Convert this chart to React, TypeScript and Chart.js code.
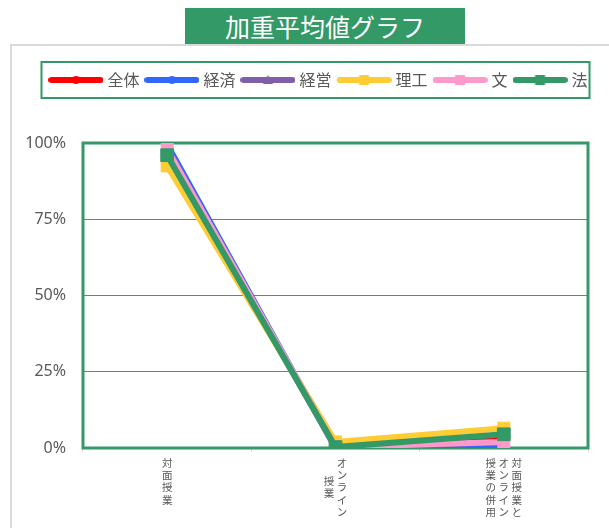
import React, { useEffect, useRef } from "react";
import { Chart, registerables } from "chart.js";

Chart.register(...registerables);

const categories = ["対面授業", "オンライン授業", "対面授業とオンライン授業の併用"];
const tickLines = [["対面授業"], ["オンライン", "授業"], ["対面授業と", "オンライン", "授業の併用"]];
const seriesNames = ["全体", "経済", "経営", "理工", "文", "法"];
const zentai = [96.5, 0.5, 3.0];
const keizai = [99.5, 0.0, 0.5];
const keiei = [98.0, 0.0, 2.0];
const riko = [92.5, 2.0, 6.5];
const bun = [98.0, 0.3, 2.0];
const hou = [96.0, 0.3, 4.5];
const yTicks = [0, 25, 50, 75, 100];

const GREEN = "#339966";
const GRID_GREEN = "#2fa463";
const colors = ["#FF0000", "#3366FF", "#7F5FA8", "#FFCC33", "#FF99CC", GREEN];
const styles: any[] = ["circle", "circle", "triangle", "rect", "rect", "rect"];
const radii = [4, 4, 5, 8.5, 8.5, 9];
const legendMarker = [4, 4, 5, 5, 5, 5];

function makeLegendImage(i: number) {
  const c = document.createElement("canvas");
  c.width = 55;
  c.height = 14;
  const g = c.getContext("2d")!;
  g.strokeStyle = colors[i];
  g.fillStyle = colors[i];
  g.lineWidth = 6;
  g.lineCap = "round";
  g.beginPath();
  g.moveTo(3, 7);
  g.lineTo(52, 7);
  g.stroke();
  const cx = 27.5, cy = 7, s = legendMarker[i];
  g.beginPath();
  if (styles[i] === "circle") g.arc(cx, cy, s, 0, Math.PI * 2);
  else if (styles[i] === "triangle") {
    g.moveTo(cx, cy - s);
    g.lineTo(cx + s, cy + s * 0.8);
    g.lineTo(cx - s, cy + s * 0.8);
    g.closePath();
  } else g.rect(cx - s, cy - s, 2 * s, 2 * s);
  g.fill();
  return c;
}

const CANVAS_LEFT = 11;
const CANVAS_TOP = 46;
const CANVAS_W = 618;
const CANVAS_H = 482;
const PAD_TOP = 17;
const LEGEND_H = 34;

export default function App() {
  const ref = useRef<HTMLCanvasElement>(null);
  useEffect(() => {
    const imgs = seriesNames.map((_, i) => makeLegendImage(i));
    const values = [zentai, keizai, keiei, riko, bun, hou];
    const plotBorder = {
      id: "plotBorder",
      beforeDatasetsDraw(chart: any) {
        const { ctx, chartArea: a } = chart;
        ctx.save();
        ctx.strokeStyle = GREEN;
        ctx.lineWidth = 3;
        ctx.strokeRect(a.left, a.top, a.right - a.left, a.bottom - a.top);
        ctx.restore();
      },
    };
    const legendBox = {
      id: "legendBox",
      afterDraw(chart: any) {
        const hb = chart.legend.legendHitBoxes;
        if (!hb || !hb.length) return;
        const ctx = chart.ctx;
        const last = hb[hb.length - 1];
        const cy = chart.legend.top + 9 + 8;
        const x0 = hb[0].left - 11;
        ctx.save();
        ctx.strokeStyle = GREEN;
        ctx.lineWidth = 2;
        ctx.strokeRect(x0, cy - 18, last.left + last.width + 2 - x0, 36);
        ctx.restore();
      },
    };
    const xLabels = {
      id: "xLabels",
      afterDraw(chart: any) {
        const xs = chart.scales.x;
        const ctx = chart.ctx;
        ctx.save();
        ctx.font = '10.5px "Noto Sans CJK JP"';
        ctx.fillStyle = "#595959";
        ctx.textAlign = "center";
        ctx.textBaseline = "middle";
        tickLines.forEach((lines, i) => {
          const cx = xs.getPixelForValue(i);
          const n = lines.length;
          const maxLen = Math.max(...lines.map((l) => [...l].length));
          lines.forEach((line, j) => {
            const colX = cx + ((n - 1) / 2 - j) * 13;
            const chars = [...line];
            const off = ((maxLen - chars.length) / 2) * 12.2;
            chars.forEach((ch, k) => {
              ctx.fillText(ch, colX, chart.chartArea.bottom + 15 + off + k * 12.2);
            });
          });
        });
        ctx.restore();
      },
    };
    const chart = new Chart(ref.current!, {
      type: "line",
      data: {
        labels: categories,
        datasets: seriesNames.map((name, i) => ({
          label: name,
          data: values[i],
          borderColor: colors[i],
          backgroundColor: colors[i],
          borderWidth: 6,
          borderJoinStyle: "round" as const,
          borderCapStyle: "round" as const,
          pointStyle: styles[i],
          pointRadius: radii[i],
          pointBorderWidth: 1,
          pointBorderColor: colors[i],
          pointBackgroundColor: colors[i],
          order: seriesNames.length - 1 - i,
          yAxisID: "y",
        })),
      },
      options: {
        responsive: false,
        animation: false,
        layout: { padding: { left: 0, right: 0, top: PAD_TOP, bottom: 0 } },
        plugins: {
          tooltip: { enabled: false },
          title: {
            display: true,
            text: "",
            weight: 500,
            font: { size: 1, lineHeight: 1 },
            padding: { top: 142 - CANVAS_TOP - PAD_TOP - LEGEND_H - 1, bottom: 0 },
          },
          legend: {
            position: "top",
            align: "center",
            labels: {
              usePointStyle: true,
              pointStyleWidth: 47,
              padding: 9,
              color: "#595959",
              font: { size: 16, family: '"Noto Sans CJK JP"' },
              sort: (a: any, b: any) => a.datasetIndex - b.datasetIndex,
              generateLabels: (c: any) => {
                const items = (Chart.defaults.plugins.legend.labels as any).generateLabels(c);
                return items.map((it: any) => ({ ...it, pointStyle: imgs[it.datasetIndex] }));
              },
            },
          },
        },
        scales: {
          x: {
            offset: true,
            ticks: { display: false },
            grid: { display: true, drawOnChartArea: false, offset: true, tickLength: 4, color: "#d9d9d9" },
            border: { display: true, color: "#d9d9d9" },
            afterFit: (s: any) => {
              s.height = 80;
            },
          },
          y: {
            position: "left",
            min: 0,
            max: 100,
            afterBuildTicks: (s: any) => {
              s.ticks = yTicks.map((v) => ({ value: v }));
            },
            ticks: {
              padding: 17,
              color: "#595959",
              font: { size: 16, family: '"Noto Sans"' },
              callback: (v: any) => v + "%",
            },
            grid: { color: GRID_GREEN, lineWidth: 1, drawTicks: false },
            border: { display: false },
            afterFit: (s: any) => {
              s.width = 83 - CANVAS_LEFT;
            },
          },
          yR: {
            position: "right",
            min: 0,
            max: 100,
            ticks: { display: false },
            grid: { display: false, drawTicks: false },
            border: { display: false },
            afterFit: (s: any) => {
              s.width = CANVAS_LEFT + CANVAS_W - 588;
            },
          },
        },
      },
      plugins: [plotBorder, legendBox, xLabels],
    } as any);
    return () => chart.destroy();
  }, []);

  return (
    <div style={{ position: "absolute", left: 0, top: 0, width: 609, height: 528, overflow: "hidden", background: "#fff" }}>
      <div
        style={{
          position: "absolute",
          left: 10,
          top: 44,
          width: 640,
          height: 520,
          border: "2px solid #d9d9d9",
          boxSizing: "border-box",
        }}
      />
      <canvas
        ref={ref}
        width={CANVAS_W}
        height={CANVAS_H}
        style={{ position: "absolute", left: CANVAS_LEFT, top: CANVAS_TOP }}
      />
      <div
        style={{
          position: "absolute",
          left: 185,
          top: 8,
          width: 280,
          height: 36,
          background: GREEN,
          color: "#fff",
          fontFamily: '"Noto Sans CJK JP"',
          fontSize: 25,
          lineHeight: "36px",
          textAlign: "center",
          zIndex: 2,
        }}
      >
        加重平均値グラフ
      </div>
    </div>
  );
}
